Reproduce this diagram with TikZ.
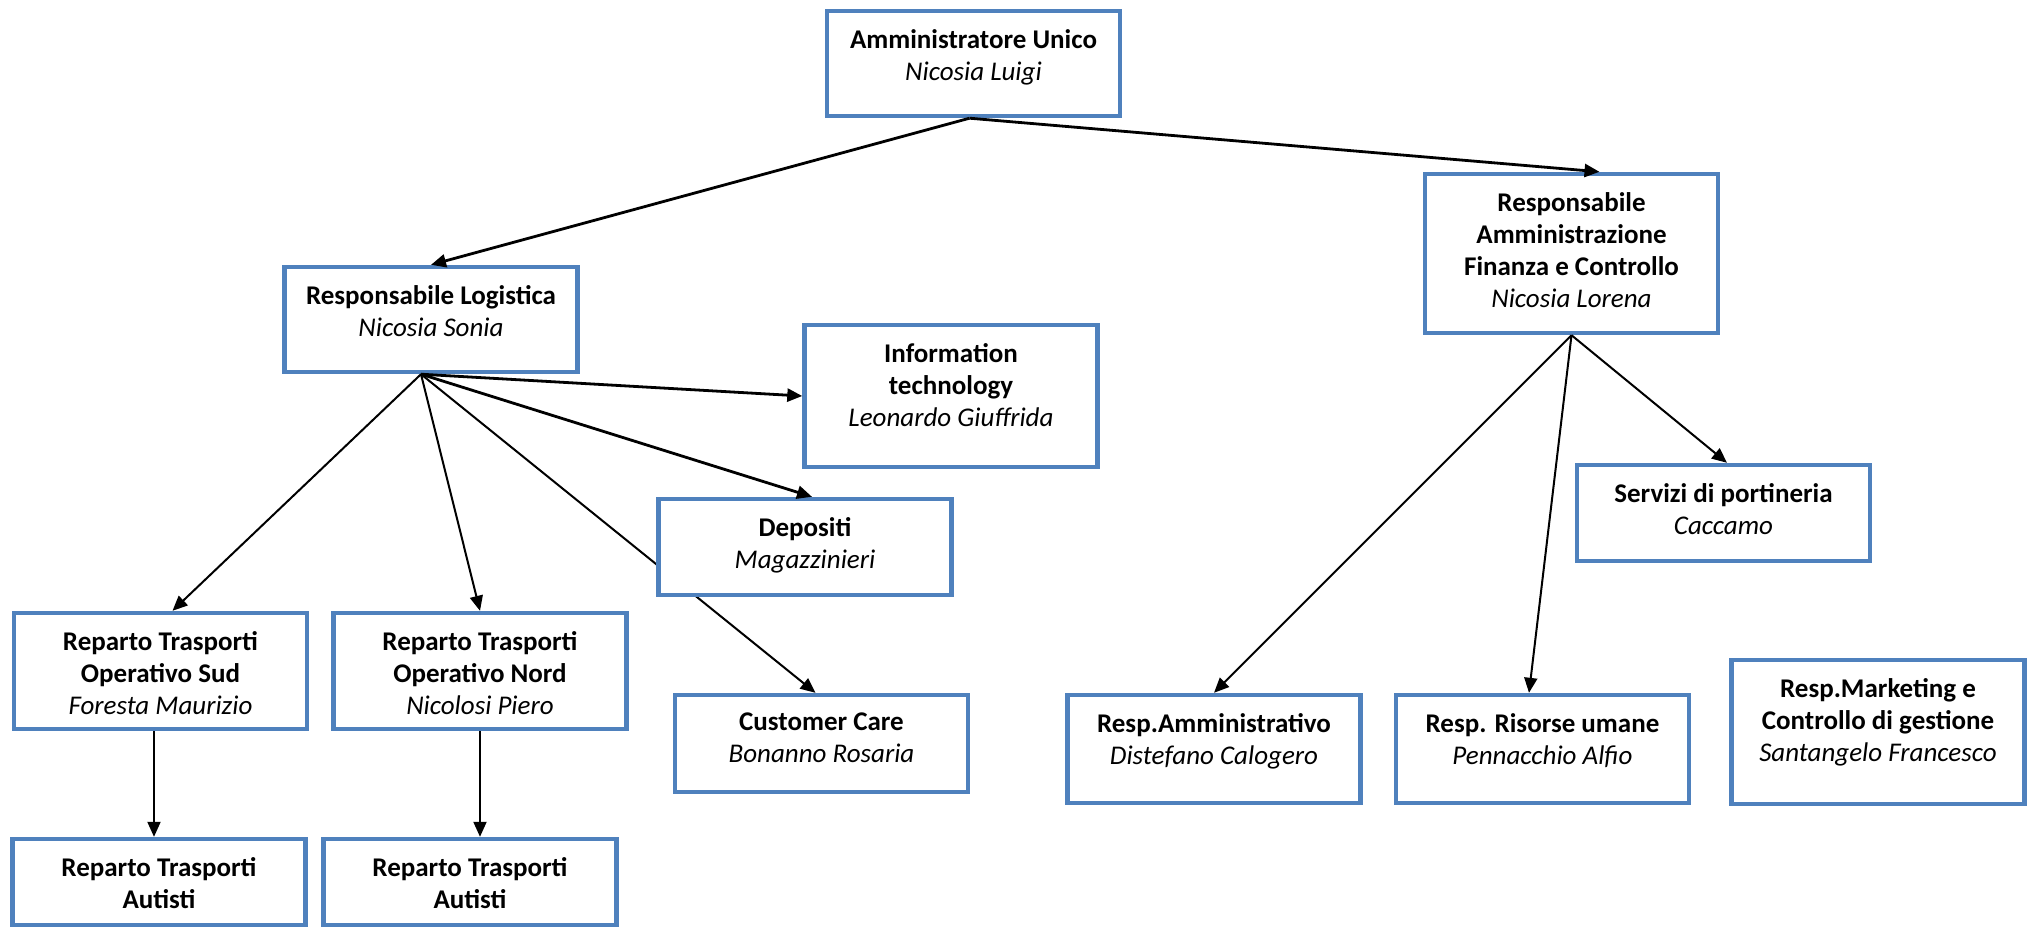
\documentclass[tikz,border=0pt]{standalone}
\usepackage{fontspec}
\setmainfont{Carlito}
\usepackage{xcolor}
\usepackage{tikz}
\usetikzlibrary{positioning,arrows.meta}

\definecolor{boxblue}{HTML}{4F81BD}
\pgfdeclarelayer{bg}
\pgfsetlayers{bg,main}

\begin{document}
\begin{tikzpicture}[
    x=0.5pt, y=-0.5pt,
    box/.style={draw=boxblue, line width=2.2pt, fill=white, inner sep=0pt,
                minimum width=146.5pt, minimum height=#1},
    box/.default={52.5pt},
    txt/.style={align=center, inner sep=0pt,
                font=\fontsize{13.5pt}{16pt}\selectfont},
    arr/.style={-{Triangle[length=7.5pt, width=6.5pt]}, line width=1pt, black},
    arrb/.style={arr, line width=1.4pt},
]
\useasboundingbox (0,0) rectangle (2030,928);

% ===== Top level =====
\node[box]            (au)   at (973.5,63.5)  {};
\node[txt, below=10pt of au.north] (au-t)   {\textbf{Amministratore Unico}\\\textit{Nicosia Luigi}};

% ===== Logistica branch =====
\node[box]            (rl)   at (431,319.5)   {};
\node[txt, below=10pt of rl.north] (rl-t)   {\textbf{Responsabile Logistica}\\\textit{Nicosia Sonia}};
\node[box=71pt]       (it)   at (951,396)     {};
\node[txt, below=10pt of it.north] (it-t)   {\textbf{Information}\\\textbf{technology}\\\textit{Leonardo Giuffrida}};
\node[box=48pt]       (dep)  at (805,547)     {};
\node[txt, below=10pt of dep.north] (dep-t) {\textbf{Depositi}\\\textit{Magazzinieri}};
\node[box=58pt]       (sud)  at (160.5,671)   {};
\node[txt, below=10pt of sud.north] (sud-t) {\textbf{Reparto Trasporti}\\\textbf{Operativo Sud}\\\textit{Foresta Maurizio}};
\node[box=58pt]       (nord) at (480,671)     {};
\node[txt, below=10pt of nord.north] (nord-t) {\textbf{Reparto Trasporti}\\\textbf{Operativo Nord}\\\textit{Nicolosi Piero}};
\node[box=48.5pt]     (cc)   at (821.5,743.5) {};
\node[txt, below=10pt of cc.north] (cc-t)   {\textbf{Customer Care}\\\textit{Bonanno Rosaria}};
\node[box=43pt]       (aus)  at (159,882)     {};
\node[txt, below=10pt of aus.north] (aus-t) {\textbf{Reparto Trasporti}\\\textbf{Autisti}};
\node[box=43pt]       (aun)  at (470,882)     {};
\node[txt, below=10pt of aun.north] (aun-t) {\textbf{Reparto Trasporti}\\\textbf{Autisti}};

% ===== Amministrazione branch =====
\node[box=79.5pt]     (afc)  at (1571.5,253.5) {};
\node[txt, below=10pt of afc.north] (afc-t) {\textbf{Responsabile}\\\textbf{Amministrazione}\\\textbf{Finanza e Controllo}\\\textit{Nicosia Lorena}};
\node[box=48pt]       (srv)  at (1723.5,513)  {};
\node[txt, below=10pt of srv.north] (srv-t) {\textbf{Servizi di portineria}\\\textit{Caccamo}};
\node[box=54pt]       (ram)  at (1214,749)    {};
\node[txt, below=10pt of ram.north] (ram-t) {\textbf{Resp.Amministrativo}\\\textit{Distefano Calogero}};
\node[box=54pt]       (rru)  at (1542.5,749)  {};
\node[txt, below=10pt of rru.north] (rru-t) {\textbf{Resp. Risorse umane}\\\textit{Pennacchio Alfio}};
\node[box=72pt]       (rmk)  at (1878,732)    {};
\node[txt, below=10pt of rmk.north] (rmk-t) {\textbf{Resp.Marketing e}\\\textbf{Controllo di gestione}\\\textit{Santangelo Francesco}};

% ===== Connectors =====
\draw[arrb] ([xshift=-2pt]au.south) -- (rl.north);
\draw[arrb] ([xshift=-2pt]au.south) -- ([xshift=14pt]afc.north);

\draw[arrb] ([xshift=-5pt]rl.south) -- (it.west);
\draw[arrb] ([xshift=-5pt]rl.south) -- ([xshift=3.5pt]dep.north);
\draw[arr]  ([xshift=-5pt]rl.south) -- ([xshift=6pt]sud.north);
\draw[arr]  ([xshift=-5pt]rl.south) -- (nord.north);
% this one runs behind Depositi
\begin{pgfonlayer}{bg}
\draw[arr]  ([xshift=-5pt]rl.south) -- ([xshift=-3pt]cc.north);
\end{pgfonlayer}

\draw[arr] ([xshift=-3.25pt]sud.south) -- ([xshift=-2.5pt]aus.north);
\draw[arr] (nord.south) -- ([xshift=5pt]aun.north);

\draw[arr] (afc.south) -- (ram.north);
\draw[arr] (afc.south) -- ([xshift=-6.75pt]rru.north);
\draw[arr] (afc.south) -- ([xshift=1.75pt]srv.north);

\end{tikzpicture}
\end{document}
